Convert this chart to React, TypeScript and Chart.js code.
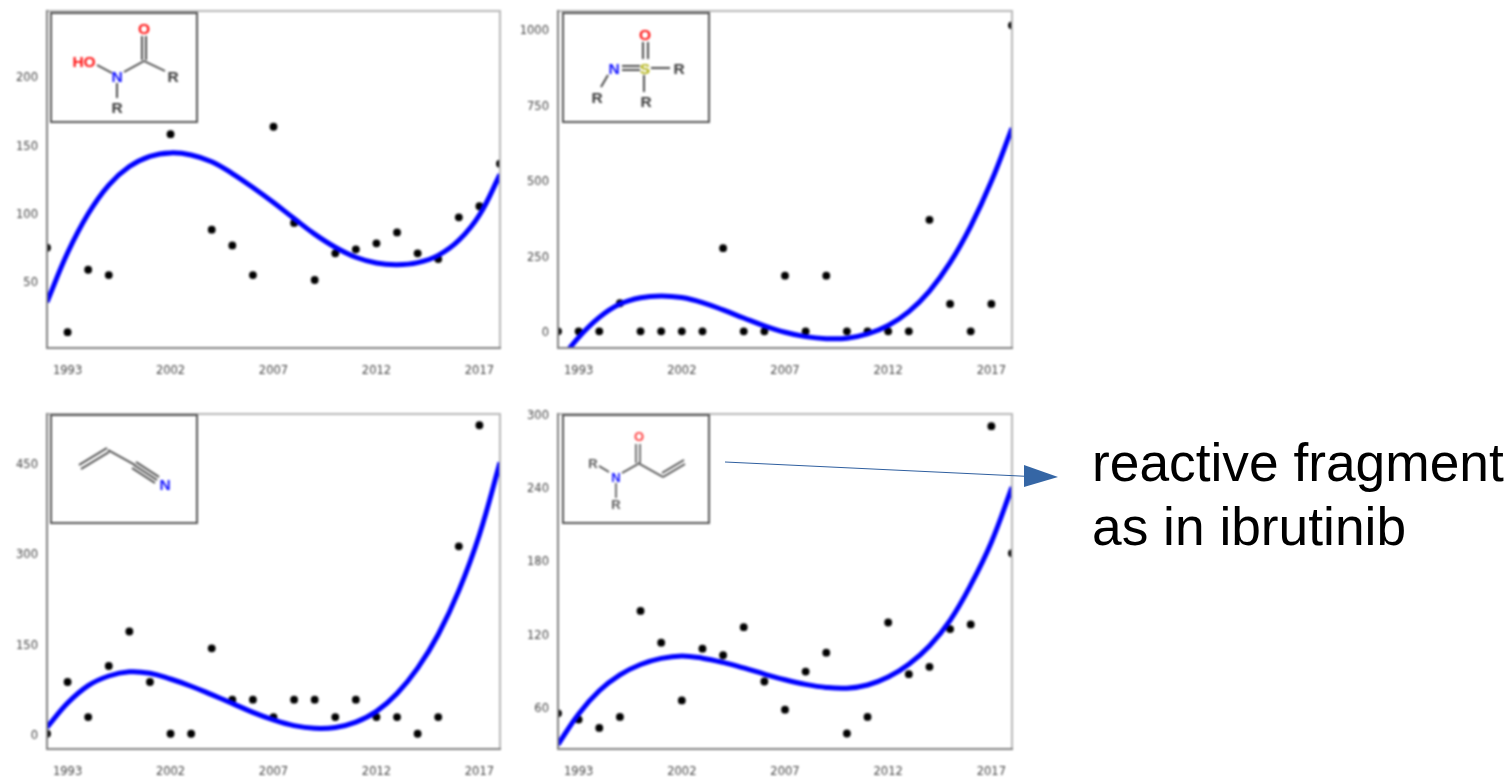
import React, { useEffect, useRef } from "react";
import { Chart, registerables } from "chart.js";

Chart.register(...registerables);

const categories = ["1992","1993","1994","1996","1998","2000","2002","2003","2004","2005","2006","2007","2008","2009","2010","2011","2012","2013","2014","2015","2016","2017","2018"];
const xTickLabels = ["1993","2002","2007","2012","2017"];

const hydroxamatePoints = [74.6,12.9,58.5,54.6,null,null,157.6,null,87.8,76.3,54.6,163,92.7,51,70.5,73.4,77.8,85.8,70.5,66.3,96.8,104.9,136];
const hydroxamateCurve = [34.9,70.9,99.4,120.4,133.9,141.4,143.9,142.4,137.4,128.8,118.6,107.6,95.9,84.5,74.9,67.6,63.4,62.2,63.7,69,80,98.5,128.1];
const hydroxamateTicks = [50,100,150,200];

const sulfoximinePoints = [0,0,0,92.7,0,0,0,0,275,0,0,184,0,184,0,0,0,0,368.7,90.5,0,90.5,1012];
const sulfoximineCurve = [-105,-20,46,90,111,117,111.5,95,70.6,44,18,-3.3,-17.7,-24.3,-23,-8.8,19,65,133,227,348,496,672];
const sulfoximineTicks = [0,250,500,750,1000];

const acrylonitrilePoints = [0,86,27.7,112.6,170,86,0,0,142,56.6,56.6,27.7,56.6,56.6,27.7,56.6,27.7,27.7,0,27.7,311.6,513,null];
const acrylonitrileCurve = [10.5,51,80,96,103,100.5,91,79,65,50.5,35.5,23,13.5,9,10.5,19.4,37.2,67,109,165,238,331,451];
const acrylonitrileTicks = [0,150,300,450];

const acrylamidePoints = [54.8,49.7,42.9,51.9,138.7,112.7,65.4,107.8,102.4,125.4,80.9,57.8,89,104.5,38.3,51.9,129.2,86.9,92.9,123.8,127.6,290,186];
const acrylamideCurve = [29.3,54.3,73.3,86.3,94.8,99.8,101.8,100,96.5,92,87,82.3,78.5,76,75.4,78,84.5,95,110,131,160,195,240];
const acrylamideTicks = [60,120,180,240,300];

const panels = [
  { left: 47, right: 500, top: 11, bottom: 348, min: 1.3, max: 247.6, ticks: hydroxamateTicks, points: hydroxamatePoints, curve: hydroxamateCurve },
  { left: 558, right: 1012, top: 11, bottom: 348, min: -55.3, max: 1059.5, ticks: sulfoximineTicks, points: sulfoximinePoints, curve: sulfoximineCurve },
  { left: 47, right: 500, top: 414, bottom: 749, min: -25.4, max: 531.7, ticks: acrylonitrileTicks, points: acrylonitrilePoints, curve: acrylonitrileCurve },
  { left: 558, right: 1012, top: 414, bottom: 749, min: 25.6, max: 300, ticks: acrylamideTicks, points: acrylamidePoints, curve: acrylamideCurve },
];

const LEFT_GUTTER = 45;
const TOP_GUTTER = 8;
const RIGHT_GUTTER = 8;
const BOTTOM_GUTTER = 29;

const framePlugin = {
  id: "frame",
  afterDatasetsDraw(chart: any) {
    const { ctx, chartArea: a } = chart;
    ctx.save();
    ctx.lineCap = "square";
    ctx.lineWidth = 2;
    ctx.strokeStyle = "#b8b8b8";
    ctx.beginPath();
    ctx.moveTo(a.left, a.top);
    ctx.lineTo(a.right, a.top);
    ctx.lineTo(a.right, a.bottom);
    ctx.stroke();
    ctx.strokeStyle = "#808080";
    ctx.beginPath();
    ctx.moveTo(a.left, a.top);
    ctx.lineTo(a.left, a.bottom);
    ctx.lineTo(a.right, a.bottom);
    ctx.stroke();
    ctx.restore();
  },
};

const noScalePadding = (s: any) => {
  s.paddingTop = 0;
  s.paddingBottom = 0;
  s.paddingLeft = 0;
  s.paddingRight = 0;
};

function Panel({ p }: { p: (typeof panels)[number] }) {
  const ref = useRef<HTMLCanvasElement>(null);
  useEffect(() => {
    const font = { family: "'DejaVu Sans'", size: 11.5 };
    const chart = new Chart(ref.current as HTMLCanvasElement, {
      type: "line",
      data: {
        labels: categories,
        datasets: [
          { data: p.curve, borderColor: "#0000ff", borderWidth: 5, pointRadius: 0, tension: 0.4, capBezierPoints: false, order: 0, clip: 0 },
          { data: p.points, showLine: false, pointRadius: 3.9, pointBorderWidth: 0, pointBackgroundColor: "#000", backgroundColor: "#000", order: 1, clip: 0 },
        ],
      },
      options: {
        animation: false,
        responsive: false,
        devicePixelRatio: 1,
        layout: { padding: { top: TOP_GUTTER, right: RIGHT_GUTTER, left: 0, bottom: 0 } },
        plugins: { legend: { display: false }, tooltip: { enabled: false } },
        scales: {
          x: {
            type: "category",
            offset: false,
            grid: { display: false, drawTicks: true, tickLength: 4, tickColor: "#666" },
            border: { display: false },
            ticks: { autoSkip: false, maxRotation: 0, minRotation: 0, padding: 12, color: "#444", font },
            afterBuildTicks: (s: any) => {
              s.ticks = s.ticks.filter((t: any) => xTickLabels.includes(categories[t.value]));
            },
            afterFit: (s: any) => { s.height = BOTTOM_GUTTER; noScalePadding(s); },
          },
          y: {
            type: "linear",
            min: p.min,
            max: p.max,
            grid: { display: false, drawTicks: true, tickLength: 4, tickColor: "#666" },
            border: { display: false },
            ticks: { padding: 5, color: "#444", font, labelOffset: 2, callback: (v: any) => String(v) },
            afterBuildTicks: (s: any) => { s.ticks = p.ticks.map((value) => ({ value })); },
            afterFit: (s: any) => { s.width = LEFT_GUTTER; noScalePadding(s); },
          },
        },
      },
      plugins: [framePlugin],
    } as any);
    return () => chart.destroy();
  }, [p]);
  return (
    <canvas
      ref={ref}
      width={p.right - p.left + LEFT_GUTTER + RIGHT_GUTTER}
      height={p.bottom - p.top + TOP_GUTTER + BOTTOM_GUTTER}
      style={{ position: "absolute", left: p.left - LEFT_GUTTER, top: p.top - TOP_GUTTER }}
    />
  );
}

const bond = "#444";
const RED = "#ff0f0f";
const BLUE = "#0f0fff";

function L({ d, w = 1.9 }: { d: number[]; w?: number }) {
  return <line x1={d[0]} y1={d[1]} x2={d[2]} y2={d[3]} stroke={bond} strokeWidth={w} />;
}
function T({ x, y, c = "#3c3c3c", s = 15.5, children }: { x: number; y: number; c?: string; s?: number; children: string }) {
  return (
    <text x={x} y={y} fill={c} fontSize={s} fontWeight="bold" fontFamily="'Liberation Sans'" textAnchor="middle" dominantBaseline="central">
      {children}
    </text>
  );
}
function Box({ x, y, w, h }: { x: number; y: number; w: number; h: number }) {
  return <rect x={x} y={y} width={w} height={h} fill="#fff" stroke="#555" strokeWidth={2} />;
}

function Insets() {
  return (
    <svg width={1511} height={778} style={{ position: "absolute", left: 0, top: 0 }}>
      <Box x={51} y={13} w={146} h={109} />
      <L d={[142, 36, 142, 60]} /><L d={[146, 36, 146, 60]} />
      <L d={[97, 65, 112, 73]} /><L d={[124, 72, 144, 61]} /><L d={[144, 61, 165, 71]} /><L d={[117, 83, 117, 98]} />
      <T x={144} y={28} c={RED}>O</T>
      <T x={84} y={61} c={RED}>HO</T>
      <T x={117} y={76} c={BLUE}>N</T>
      <T x={173} y={76}>R</T>
      <T x={117} y={107}>R</T>

      <Box x={563} y={13} w={146} h={109} />
      <L d={[643, 42, 643, 59]} /><L d={[648, 42, 648, 59]} />
      <L d={[622, 66, 640, 66]} /><L d={[622, 70, 640, 70]} />
      <L d={[651, 68, 670, 68]} /><L d={[644, 75, 644, 92]} /><L d={[608, 75, 601, 87]} />
      <T x={645} y={34} c={RED}>O</T>
      <T x={645} y={68} c="#b0b010">S</T>
      <T x={614} y={68} c={BLUE}>N</T>
      <T x={679} y={68}>R</T>
      <T x={646} y={101}>R</T>
      <T x={597} y={97}>R</T>

      <Box x={51} y={415} w={146} h={108} />
      <L d={[79, 465, 107, 448]} /><L d={[81, 469, 109, 452]} />
      <L d={[108, 450, 135, 465]} />
      <L d={[134, 465, 157, 480]} /><L d={[136, 462, 159, 477]} /><L d={[132, 468, 155, 483]} />
      <T x={165} y={484} c={BLUE}>N</T>

      <Box x={563} y={415} w={146} h={108} />
      <L d={[636, 444, 636, 463]} w={1.5} /><L d={[640, 444, 640, 463]} w={1.5} />
      <L d={[599, 466, 609, 472]} w={1.5} /><L d={[622, 473, 638, 464]} w={1.5} /><L d={[638, 463, 663, 477]} w={1.5} />
      <L d={[663, 477, 685, 464]} w={1.5} /><L d={[662, 473, 684, 460]} w={1.5} /><L d={[616, 483, 616, 498]} w={1.5} />
      <T x={639} y={436} c="#ff3a3a" s={13}>O</T>
      <T x={593} y={463} c="#5a5a5a" s={13}>R</T>
      <T x={616} y={477} c={BLUE} s={13}>N</T>
      <T x={616} y={504} c="#5a5a5a" s={13}>R</T>
    </svg>
  );
}

export default function App() {
  return (
    <div style={{ position: "absolute", left: 0, top: 0, width: 1511, height: 778, overflow: "hidden", background: "#fff" }}>
      <div style={{ position: "absolute", left: 0, top: 0, width: 1511, height: 778, filter: "blur(0.8px)" }}>
        {panels.map((p, i) => <Panel key={i} p={p} />)}
        <Insets />
      </div>
      <svg width={1511} height={778} style={{ position: "absolute", left: 0, top: 0 }}>
        <line x1={725} y1={462} x2={1030} y2={476.5} stroke="#2f5f9f" strokeWidth={1} />
        <polygon points="1024,465 1058,477 1024,487" fill="#3566a5" />
      </svg>
      <div style={{ position: "absolute", left: 1092, top: 431, fontFamily: "'Liberation Sans'", fontSize: 53.3, lineHeight: "64px", color: "#000", whiteSpace: "nowrap" }}>
        reactive fragment<br />as in ibrutinib
      </div>
    </div>
  );
}
